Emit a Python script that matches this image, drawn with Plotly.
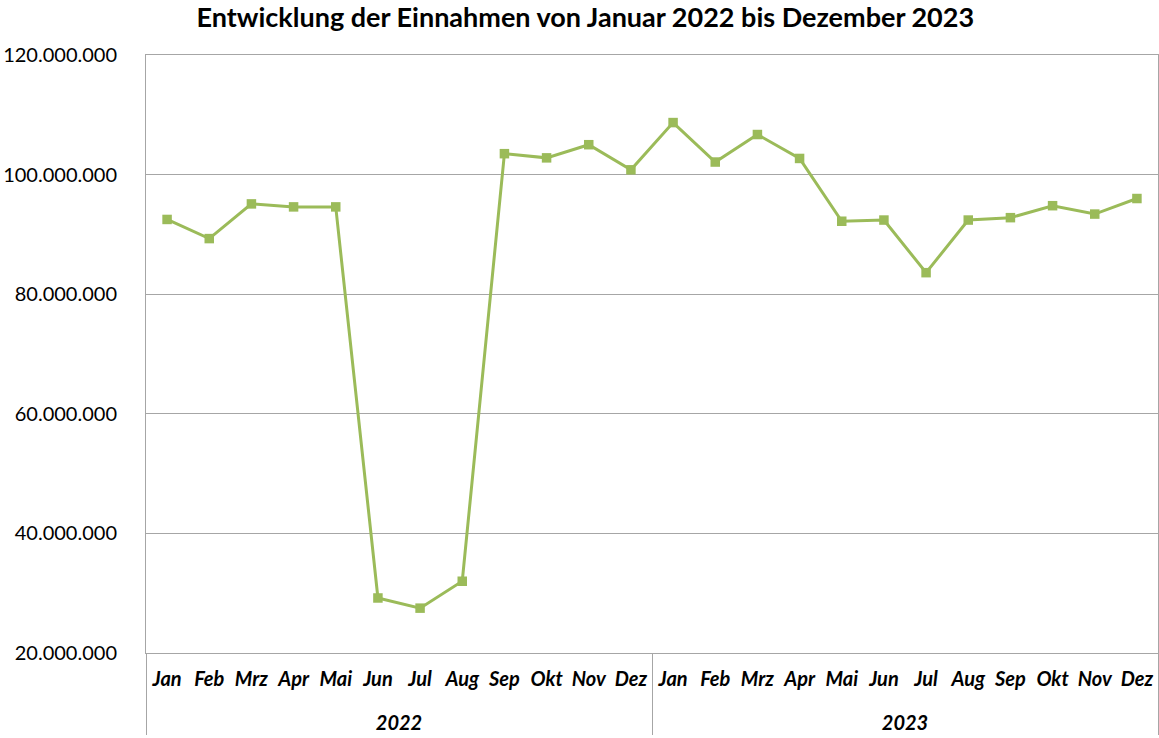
import plotly.graph_objects as go

years = ["2022"] * 12 + ["2023"] * 12
months = ["Jan", "Feb", "Mrz", "Apr", "Mai", "Jun", "Jul", "Aug", "Sep", "Okt", "Nov", "Dez"] * 2
einnahmen = [
    92.5, 89.3, 95.1, 94.6, 94.6, 29.2, 27.5, 32.0, 103.5, 102.8, 105.0, 100.8,
    108.7, 102.1, 106.7, 102.7, 92.2, 92.4, 83.6, 92.4, 92.8, 94.8, 93.4, 96.0,
]
values = [v * 1_000_000 for v in einnahmen]

# year group labels pushed one line lower (as in the reference)
year_labels = ["<br>" + y for y in years]

GREEN = "#9BBB59"
FONT = "Lato"

fig = go.Figure()
fig.add_trace(go.Scatter(
    x=[year_labels, months],
    y=values,
    mode="lines+markers",
    line=dict(color=GREEN, width=3),
    marker=dict(symbol="square", size=9.5, color=GREEN),
    showlegend=False,
))

fig.update_layout(
    width=1159, height=738,
    margin=dict(l=146, r=1, t=55, b=85),
    paper_bgcolor="white", plot_bgcolor="white",
    separators=",.",
    title=dict(
        text="<b>Entwicklung der Einnahmen von Januar 2022 bis Dezember 2023</b>",
        x=0.505, xanchor="center", xref="container",
        y=0.976, yanchor="middle", yref="container",
        font=dict(family=FONT, size=27, color="black"),
    ),
    font=dict(family=FONT, color="black"),
)

fig.update_yaxes(
    range=[20_000_000, 120_000_000], dtick=20_000_000, tickformat=",d",
    showgrid=True, gridcolor="#A6A6A6", gridwidth=1,
    showline=True, linecolor="#A6A6A6", linewidth=1, mirror=True,
    zeroline=False, ticks="", ticklabelstandoff=24, automargin=False,
    tickfont=dict(family=FONT, size=20, color="black"),
)
fig.update_xaxes(
    type="multicategory", range=[-0.5, 23.5], automargin=False, tickangle=0,
    showline=True, linecolor="#A6A6A6", linewidth=1, mirror=True,
    showgrid=False, ticks="outside", ticklen=17, tickcolor="rgba(0,0,0,0)",
    ticklabelstandoff=8,
    showdividers=True, dividercolor="#A6A6A6", dividerwidth=1,
    tickfont=dict(family=FONT, size=20, color="black", weight="bold", style="italic"),
)

fig.write_html(
    "out.html",
    config={"displayModeBar": False},
    post_script="document.body.style.margin='0px';",
)
